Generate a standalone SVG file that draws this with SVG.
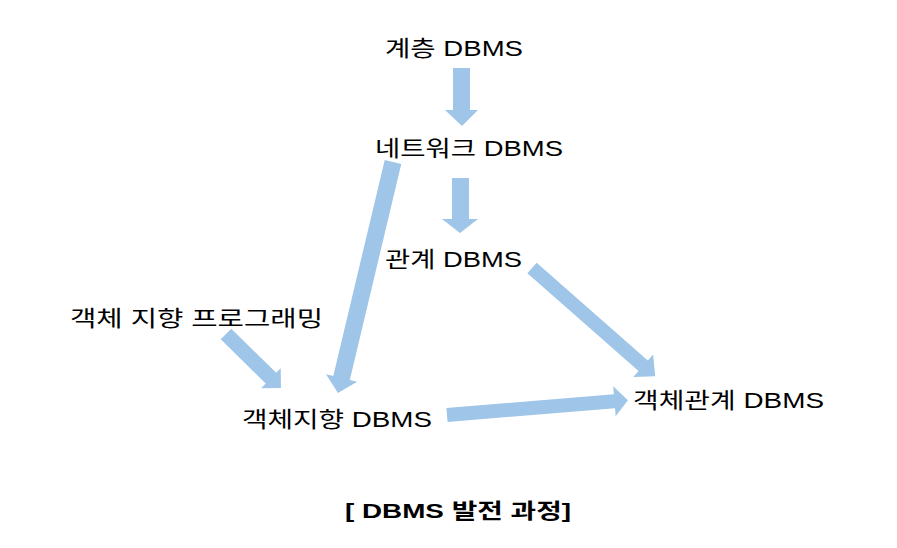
<svg xmlns="http://www.w3.org/2000/svg" width="897" height="548" viewBox="0 0 897 548">
<style>
text{font-family:"Liberation Sans","Noto Sans CJK KR",sans-serif;font-size:22px;fill:#000}
.t{font-weight:bold;font-size:21px}
.a{fill:#9fc5e8}
</style>
<rect width="897" height="548" fill="#fff"/>
<g id="connectors">
<polygon class="a" points="453,68 470,68 470,110 478,110 462,126 445,110 453,110"/>
<polygon class="a" points="452,178 469,178 469,219 478,219 460,233 442,219 452,219"/>
<g transform="translate(393,162) rotate(103.4)"><polygon class="a" points="0,-8.5 222,-8.5 222,-16 237.5,0 222,16 222,8.5 0,8.5"/></g>
<g transform="translate(226,334) rotate(44.5)"><polygon class="a" points="0,-7.5 63,-7.5 63,-14 77,0 63,14 63,7.5 0,7.5"/></g>
<g transform="translate(532,268) rotate(41.3)"><polygon class="a" points="0,-7 148,-7 148,-15 164,0 148,15 148,7 0,7"/></g>
<g transform="translate(447,415) rotate(-4.7)"><polygon class="a" points="0,-7 168,-7 168,-15 181.5,0 168,15 168,7 0,7"/></g>
</g>
<g id="n1"><text x="385" y="56" textLength="138" lengthAdjust="spacingAndGlyphs">계층 DBMS</text></g>
<g id="n2"><text x="375" y="156" textLength="188" lengthAdjust="spacingAndGlyphs">네트워크 DBMS</text></g>
<g id="n3"><text x="385" y="267" textLength="137" lengthAdjust="spacingAndGlyphs">관계 DBMS</text></g>
<g id="n4"><text x="70" y="326" textLength="253" lengthAdjust="spacingAndGlyphs">객체 지향 프로그래밍</text></g>
<g id="n5"><text x="242" y="427" textLength="190" lengthAdjust="spacingAndGlyphs">객체지향 DBMS</text></g>
<g id="n6"><text x="633" y="408" textLength="191" lengthAdjust="spacingAndGlyphs">객체관계 DBMS</text></g>
<g id="caption"><text class="t" x="345" y="518" textLength="226" lengthAdjust="spacingAndGlyphs">[ DBMS 발전 과정]</text></g>
</svg>
